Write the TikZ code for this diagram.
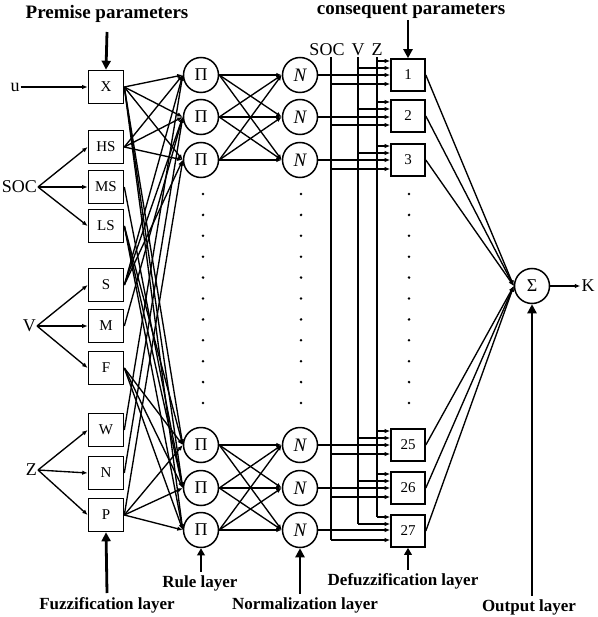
\documentclass[tikz,border=0pt]{standalone}
\usepackage{fontspec}
\setmainfont{Liberation Serif}
\usetikzlibrary{arrows.meta}
\tikzset{
  fbox/.style={draw,line width=1.6pt,minimum width=35pt,minimum height=33pt,inner sep=0pt,font=\fontsize{15}{15}\selectfont},
  dbox/.style={draw,line width=1.6pt,minimum width=34pt,minimum height=32pt,inner sep=0pt,font=\fontsize{15}{15}\selectfont},
  cnode/.style={draw,circle,line width=1.5pt,minimum size=35pt,inner sep=0pt,font=\fontsize{18}{18}\selectfont},
  nnode/.style={cnode,font=\fontsize{19}{19}\selectfont\itshape},
  conn/.style={line width=1.35pt,-{Latex[length=5.5pt,width=4.5pt]}},
  plain/.style={line width=1.35pt},
  bigarrow/.style={line width=2.8pt,-{Triangle[length=9pt,width=9pt]}},
  smallarrow/.style={line width=2.4pt,-{Triangle[length=7pt,width=7.5pt]}},
  title/.style={font=\fontsize{19}{19}\selectfont\bfseries,anchor=base,inner sep=0pt},
  layer/.style={font=\fontsize{17}{17}\selectfont\bfseries},
  lbl/.style={font=\fontsize{18}{18}\selectfont,inner sep=1pt},
  dotc/.style={circle,fill,inner sep=0pt,minimum size=2.8pt}
}
\begin{document}
\begin{tikzpicture}[x=1pt,y=-1pt]
\useasboundingbox (0,0) rectangle (597,617);
% titles
\node[title] (tprem) at (107,19) {Premise parameters};
\node[title] (tcons) at (411,15) {consequent parameters};
% fuzzification boxes
\node[fbox] (X) at (106,87) {X};
\node[fbox] (HS) at (106,147) {HS};
\node[fbox] (MS) at (106,187) {MS};
\node[fbox] (LS) at (106,226) {LS};
\node[fbox] (S) at (106,285) {S};
\node[fbox] (M) at (106,326) {M};
\node[fbox] (F) at (106,368) {F};
\node[fbox] (W) at (106,430) {W};
\node[fbox] (Nb) at (106,473) {N};
\node[fbox] (P) at (106,515) {P};
% inputs
\node[lbl] (u) at (15,87) {u};
\node[lbl,anchor=east] (soc) at (38,187) {SOC};
\node[lbl,anchor=east] (v) at (37,326) {V};
\node[lbl,anchor=east] (z) at (38,470) {Z};
\draw[conn] (u) -- (X);
\foreach \b in {HS,MS,LS} \draw[conn] (soc.east) -- (\b.west);
\foreach \b in {S,M,F} \draw[conn] (v.east) -- (\b.west);
\foreach \b in {W,Nb,P} \draw[conn] (z.east) -- (\b.west);
% rule layer
\node[cnode] (R1) at (201,75) {Π};
\node[cnode] (R2) at (201,117) {Π};
\node[cnode] (R3) at (201,160) {Π};
\node[cnode] (R25) at (201,445) {Π};
\node[cnode] (R26) at (201,488) {Π};
\node[cnode] (R27) at (201,530) {Π};
% normalization layer
\node[nnode] (N1) at (300,75) {N};
\node[nnode] (N2) at (300,117) {N};
\node[nnode] (N3) at (300,160) {N};
\node[nnode] (N25) at (300,445) {N};
\node[nnode] (N26) at (300,488) {N};
\node[nnode] (N27) at (300,530) {N};
% defuzzification layer
\node[dbox] (D1) at (408,75) {1};
\node[dbox] (D2) at (408,116) {2};
\node[dbox] (D3) at (408,160) {3};
\node[dbox] (D25) at (408,445) {25};
\node[dbox] (D26) at (408,488) {26};
\node[dbox] (D27) at (408,531) {27};
% output
\node[cnode] (sum) at (532,286) {Σ};
\node[lbl] (K) at (588,286) {K};
\draw[conn] (sum) -- (K);
% dots
\foreach \i in {0,...,10} {
  \node[dotc] (da\i) at (203,{194+20.9*\i}) {};
  \node[dotc] (db\i) at (301,{194+20.9*\i}) {};
  \node[dotc] (dc\i) at (409,{194+20.9*\i}) {};
}
% fuzz -> rule
\foreach \r in {R1,R2,R3,R25,R26,R27} \draw[conn] (X.east) -- (\r.west);
\foreach \r in {R1,R2,R3} {\draw[conn] (HS.east) -- (\r.west); \draw[conn] (S.east) -- (\r.west);}
\foreach \r in {R25,R26,R27} {\draw[conn] (LS.east) -- (\r.west); \draw[conn] (F.east) -- (\r.west); \draw[conn] (P.east) -- (\r.west);}
\draw[conn] (W.east) -- (R1.west);
\draw[conn] (Nb.east) -- (R2.west);
\draw[conn] (P.east) -- (R3.west);
\draw[conn] (MS.east) -- (R26.west);
\draw[conn] (M.east) -- (R2.west);
% rule -> norm
\foreach \a in {R1,R2,R3} \foreach \b in {N1,N2,N3} \draw[conn] (\a.east) -- (\b.west);
\foreach \a in {R25,R26,R27} \foreach \b in {N25,N26,N27} \draw[conn] (\a.east) -- (\b.west);
% parameter lines
\coordinate (socT) at (331,57);
\coordinate (vT) at (358,57);
\coordinate (zT) at (377,57);
\node[lbl,anchor=south] (lsoc) at (327,57) {SOC};
\node[lbl,anchor=south] (lv) at (358,57) {V};
\node[lbl,anchor=south] (lz) at (377,57) {Z};
\draw[plain] (socT) -- ([yshift=-9pt]D27.west -| socT);
\draw[plain] (vT) -- ([yshift=7pt]D27.west -| vT);
\draw[plain] (zT) -- ([yshift=14pt]D27.west -| zT);
\foreach \d/\n in {D1/N1,D2/N2,D3/N3,D25/N25,D26/N26,D27/N27} {
  \draw[conn] (\n.east) -- (\n.east -| \d.west);
  \draw[conn] ([yshift=-9pt]\d.west -| socT) -- ([yshift=-9pt]\d.west);
  \draw[conn] ([yshift=7pt]\d.west -| vT) -- ([yshift=7pt]\d.west);
  \draw[conn] ([yshift=14pt]\d.west -| zT) -- ([yshift=14pt]\d.west);
}
% defuzz -> sum
\foreach \d in {D1,D2,D3,D25,D26,D27} \draw[conn] (\d.east) -- (sum.west);
% big arrows
\draw[bigarrow] (107,32) -- (X.north);
\draw[bigarrow] (408,20) -- (D1.north);
\node[layer] (lfuzz) at (107,605) {Fuzzification layer};
\draw[bigarrow] (107,593) -- (P.south);
\node[layer] (lrule) at (200,583) {Rule layer};
\draw[smallarrow] (lrule.north -| R27) -- (R27.south);
\node[layer] (lnorm) at (305,605) {Normalization layer};
\draw[bigarrow] (lnorm.north -| N27) -- (N27.south);
\node[layer] (ldef) at (403,581) {Defuzzification layer};
\draw[smallarrow] (ldef.north -| D27) -- (D27.south);
\node[layer] (lout) at (529,607) {Output layer};
\draw[bigarrow] (lout.north -| sum) -- (sum.south);
\end{tikzpicture}
\end{document}
